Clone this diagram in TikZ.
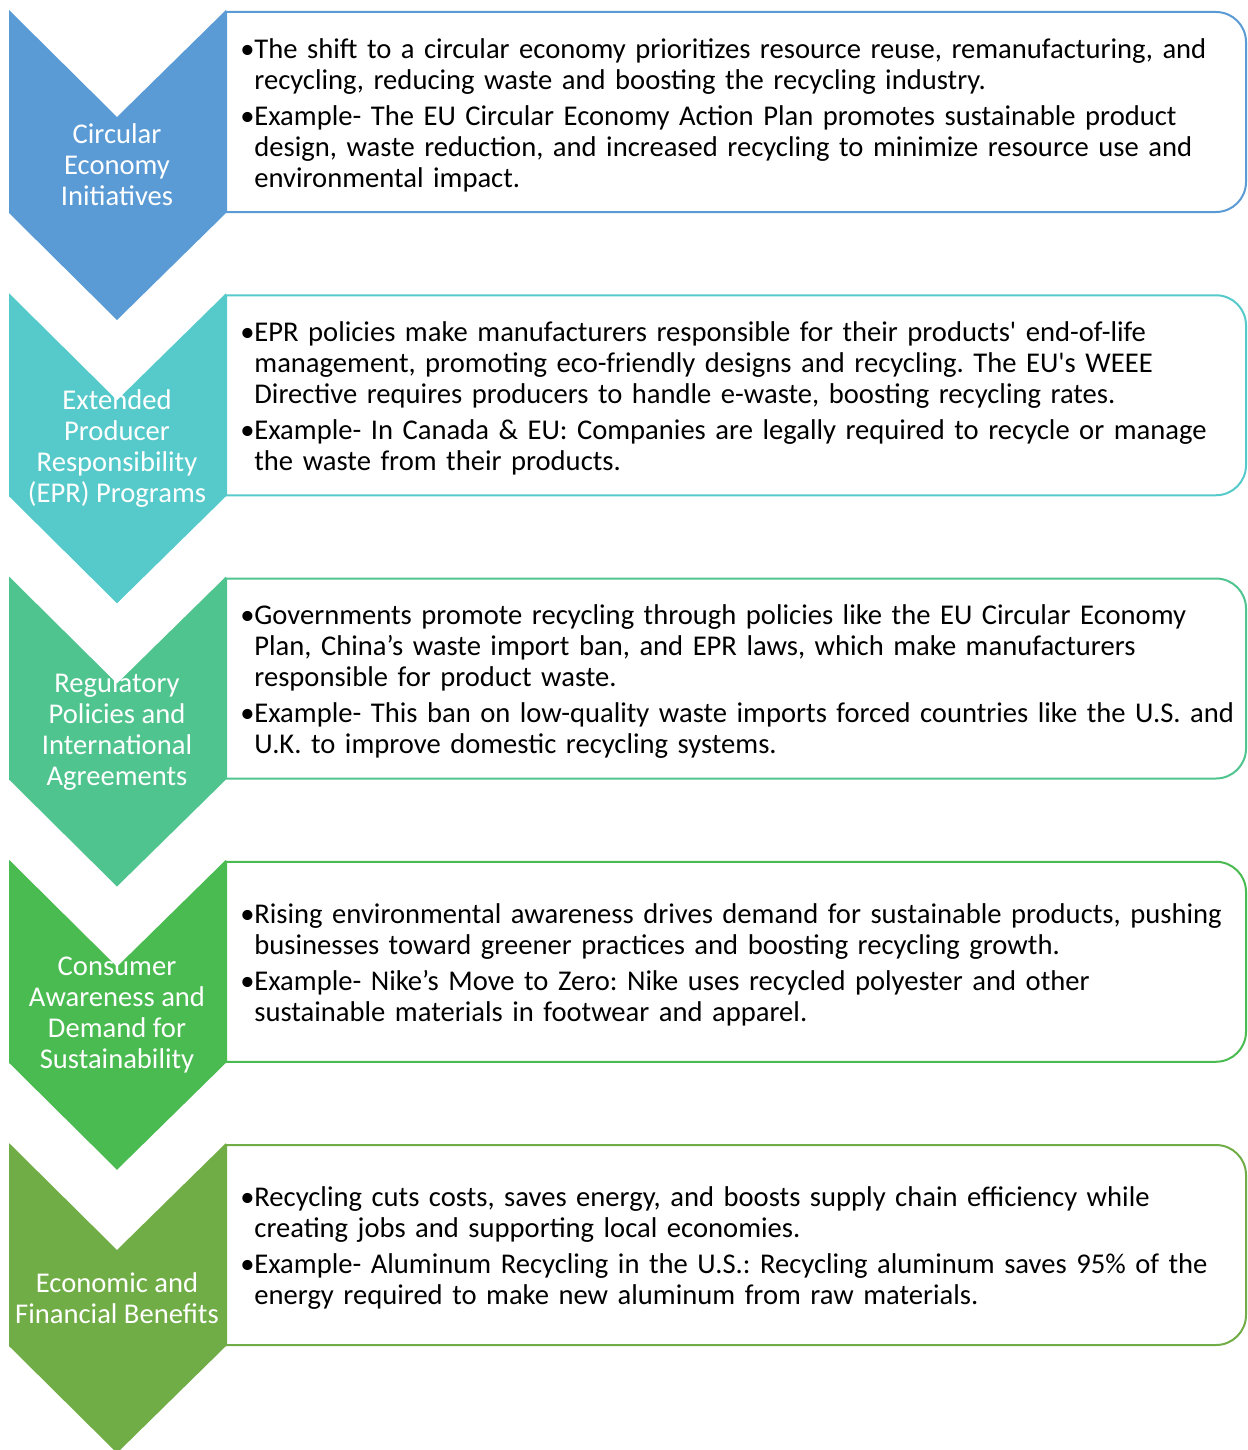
\documentclass[tikz,border=0pt]{standalone}
\usepackage{fontspec}
\setmainfont{Carlito}
\usepackage{xcolor}
\usepackage{tikz}
\usetikzlibrary{positioning,calc}

\definecolor{circblue}{HTML}{5B9BD5}
\definecolor{eprteal}{HTML}{56CACB}
\definecolor{regmint}{HTML}{4FC48E}
\definecolor{consgreen}{HTML}{4ABB50}
\definecolor{econgreen}{HTML}{70AD47}

% one bullet with hanging indent
\newcommand{\bulletline}[1]{\par\noindent\hangindent=7pt\hangafter=1\makebox[7pt][l]{\textbullet}#1\par}

\begin{document}
\begin{tikzpicture}[
  x=0.5pt, y=-0.5pt,
  every node/.style={font=\fontsize{14.3}{15.5}\selectfont\frenchspacing},
  % chevron and its panel share one colour
  chevfill/.style={fill=#1},
  panel/.style={draw=#1, line width=1pt},
  title/.style={text=white, align=center, inner sep=0pt},
  body/.style={anchor=west, text width=500pt, align=left, inner sep=0pt,
    execute at begin node={\setlength{\parskip}{2.5pt}}}
]
\useasboundingbox (0,0) rectangle (1247,1450);

% Circular economy
\begin{scope}[shift={(0,10)}]
  \fill[chevfill=circblue] (9,0) -- (117,107) -- (226,0) -- (226,203) -- (117,310) -- (9,203) -- cycle;
  \draw[panel=circblue] (226,2) -- (1216,2) arc[start angle=90, end angle=0, radius=15pt] -- (1246,172) arc[start angle=0, end angle=-90, radius=15pt] -- (226,202) -- cycle;
  \node[title] (circ) at (117,155) {Circular\\Economy\\Initiatives};
  \node[body] (circtxt) at (240,97) {%
    \bulletline{The shift to a circular economy prioritizes resource reuse, remanufacturing, and\newline recycling, reducing waste and boosting the recycling industry.}%
    \bulletline{Example- The EU Circular Economy Action Plan promotes sustainable product\newline design, waste reduction, and increased recycling to minimize resource use and\newline environmental impact.}};
\end{scope}

% EPR
\begin{scope}[shift={(0,293.25)}]
  \fill[chevfill=eprteal] (9,0) -- (117,107) -- (226,0) -- (226,203) -- (117,310) -- (9,203) -- cycle;
  \draw[panel=eprteal] (226,2) -- (1216,2) arc[start angle=90, end angle=0, radius=15pt] -- (1246,172) arc[start angle=0, end angle=-90, radius=15pt] -- (226,202) -- cycle;
  \node[title] (epr) at (117,155) {Extended\\Producer\\Responsibility\\(EPR) Programs};
  \node[body] (eprtxt) at (240,97) {%
    \bulletline{EPR policies make manufacturers responsible for their products\textquotesingle\ end-of-life\newline management, promoting eco-friendly designs and recycling. The EU\textquotesingle s WEEE\newline Directive requires producers to handle e-waste, boosting recycling rates.}%
    \bulletline{Example- In Canada \& EU: Companies are legally required to recycle or manage\newline the waste from their products.}};
\end{scope}

% Regulation
\begin{scope}[shift={(0,576.5)}]
  \fill[chevfill=regmint] (9,0) -- (117,107) -- (226,0) -- (226,203) -- (117,310) -- (9,203) -- cycle;
  \draw[panel=regmint] (226,2) -- (1216,2) arc[start angle=90, end angle=0, radius=15pt] -- (1246,172) arc[start angle=0, end angle=-90, radius=15pt] -- (226,202) -- cycle;
  \node[title] (reg) at (117,155) {Regulatory\\Policies and\\International\\Agreements};
  \node[body] (regtxt) at (240,97) {%
    \bulletline{Governments promote recycling through policies like the EU Circular Economy\newline Plan, China’s waste import ban, and EPR laws, which make manufacturers\newline responsible for product waste.}%
    \bulletline{Example- This ban on low-quality waste imports forced countries like the U.S. and\newline U.K. to improve domestic recycling systems.}};
\end{scope}

% Consumers
\begin{scope}[shift={(0,859.75)}]
  \fill[chevfill=consgreen] (9,0) -- (117,107) -- (226,0) -- (226,203) -- (117,310) -- (9,203) -- cycle;
  \draw[panel=consgreen] (226,2) -- (1216,2) arc[start angle=90, end angle=0, radius=15pt] -- (1246,172) arc[start angle=0, end angle=-90, radius=15pt] -- (226,202) -- cycle;
  \node[title] (cons) at (117,155) {Consumer\\Awareness and\\Demand for\\Sustainability};
  \node[body] (constxt) at (240,97) {%
    \bulletline{Rising environmental awareness drives demand for sustainable products, pushing\newline businesses toward greener practices and boosting recycling growth.}%
    \bulletline{Example- Nike’s Move to Zero: Nike uses recycled polyester and other\newline sustainable materials in footwear and apparel.}};
\end{scope}

% Economics
\begin{scope}[shift={(0,1143)}]
  \fill[chevfill=econgreen] (9,0) -- (117,107) -- (226,0) -- (226,203) -- (117,310) -- (9,203) -- cycle;
  \draw[panel=econgreen] (226,2) -- (1216,2) arc[start angle=90, end angle=0, radius=15pt] -- (1246,172) arc[start angle=0, end angle=-90, radius=15pt] -- (226,202) -- cycle;
  \node[title] (econ) at (117,155) {Economic and\\Financial Benefits};
  \node[body] (econtxt) at (240,97) {%
    \bulletline{Recycling cuts costs, saves energy, and boosts supply chain efficiency while\newline creating jobs and supporting local economies.}%
    \bulletline{Example- Aluminum Recycling in the U.S.: Recycling aluminum saves 95\% of the\newline energy required to make new aluminum from raw materials.}};
\end{scope}

\end{tikzpicture}
\end{document}
